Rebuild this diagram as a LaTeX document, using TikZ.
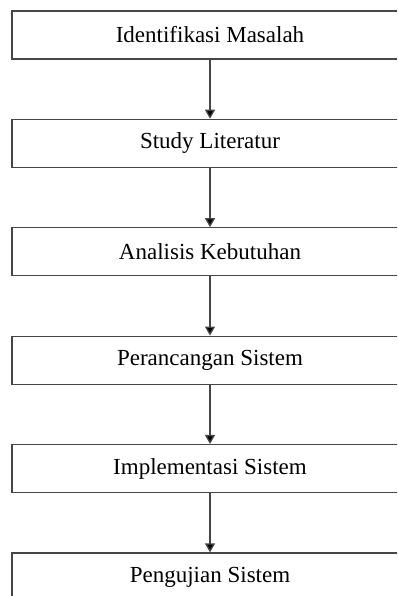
\documentclass[tikz,border=0pt]{standalone}
\usepackage{fontspec}
\setmainfont{Liberation Serif}
\usetikzlibrary{arrows.meta}
\definecolor{alur-garis}{RGB}{70,70,70}

\begin{document}
\begin{tikzpicture}[x=1pt, y=-1pt,
    tahap/.style={draw=alur-garis, line width=1.3pt, minimum width=396pt,
        minimum height=48pt, inner sep=0pt, font=\fontsize{23}{27}\selectfont},
    panah/.style={draw=alur-garis, line width=1.3pt,
        -{Triangle[width=10pt,length=9pt,fill=black]}}]
    \clip (0,0) rectangle (397,596);

    \node[tahap] (identifikasi) at (210,35) {Identifikasi Masalah};
    \node[tahap] (literatur) at (210,143.4) {Study Literatur};
    \node[tahap] (kebutuhan) at (210,251.8) {Analisis Kebutuhan};
    \node[tahap] (perancangan) at (210,360.2) {Perancangan Sistem};
    \node[tahap] (implementasi) at (210,468.6) {Implementasi Sistem};
    \node[tahap] (pengujian) at (210,577) {Pengujian Sistem};

    \draw[panah] (identifikasi) -- (literatur);
    \draw[panah] (literatur) -- (kebutuhan);
    \draw[panah] (kebutuhan) -- (perancangan);
    \draw[panah] (perancangan) -- (implementasi);
    \draw[panah] (implementasi) -- (pengujian);
\end{tikzpicture}
\end{document}
